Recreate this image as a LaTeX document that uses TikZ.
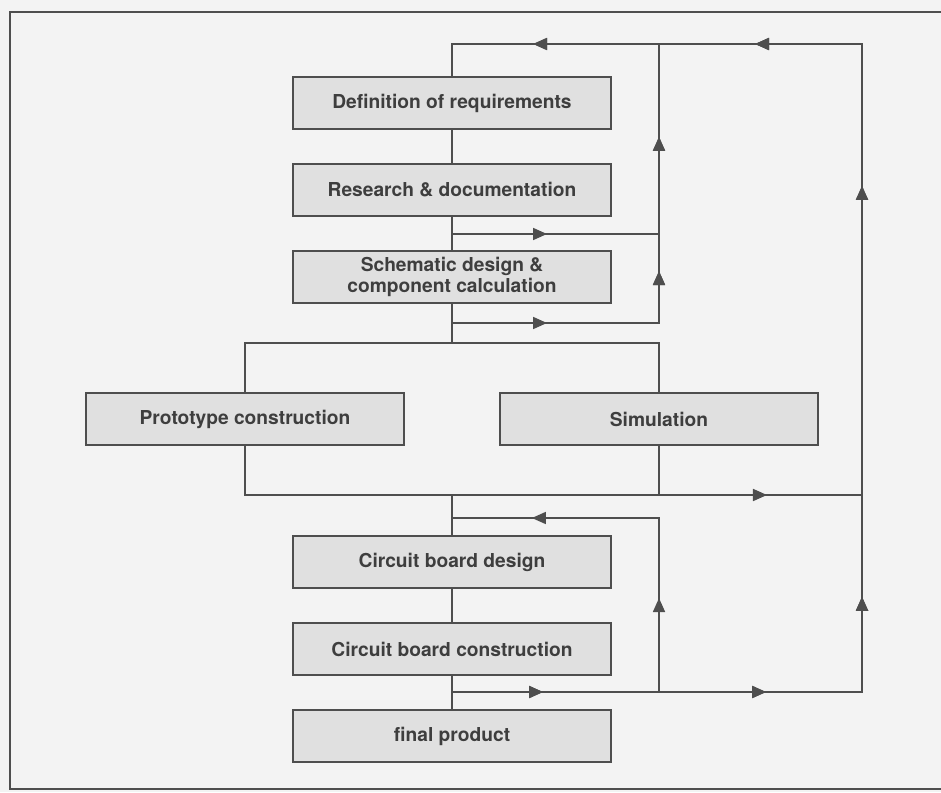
\documentclass[tikz,border=0pt]{standalone}
\usepackage{fontspec}
\setmainfont{TeX Gyre Heros}
\usetikzlibrary{arrows.meta, positioning, decorations.markings}

\definecolor{bg}{RGB}{243,243,243}
\definecolor{boxfill}{RGB}{224,224,224}
\definecolor{ink}{RGB}{78,78,78}
\definecolor{txt}{RGB}{62,62,62}

\begin{document}
\begin{tikzpicture}[
  x=0.5pt, y=-0.5pt,
  >={Triangle[length=7pt,width=6pt]},
  stage/.style={
    draw=ink,
    fill=boxfill,
    line width=1.15pt,
    align=center,
    text=txt,
    font=\bfseries\fontsize{9.6}{10.5}\selectfont,
    minimum width=159pt,
    minimum height=26pt,
    inner sep=2pt,
    outer sep=0pt
  },
  flow/.style={draw=ink, line width=0.85pt, line cap=rect},
  arrowat/.style={postaction={decorate},
    decoration={markings, mark=at position #1 with {\arrow[ink]{>}}}},
  node distance=17.5pt
]

% page
\useasboundingbox[fill=bg] (0,0) rectangle (941,792);
\draw[ink, line width=1pt] (941,12) -- (10,12) -- (10,789) -- (941,789);

% Main column
\node[stage] (def) at (452,103) {Definition of requirements};
\node[stage, below=of def] (res) {Research \& documentation};
\node[stage, below=of res] (sch) {Schematic design \&\\component calculation};

% Two parallel steps
\node[stage, below=45pt of sch, xshift=-103.5pt] (proto) {Prototype construction};
\node[stage, below=45pt of sch, xshift=103.5pt] (sim) {Simulation};

% Board and product
\node[stage, below=116.5pt of sch] (cbd) {Circuit board design};
\node[stage, below=of cbd] (cbc) {Circuit board construction};
\node[stage, below=of cbc] (fin) {final product};

% Junctions
\coordinate (top) at (def.north |- 0,44);
\coordinate (topin) at (sim.north |- 0,44);
\coordinate (topout) at (862,44);
\coordinate (r1) at (res.south |- 0,234);
\coordinate (r1in) at (sim.north |- 0,234);
\coordinate (s1) at (sch.south |- 0,323);
\coordinate (s1in) at (sim.north |- 0,323);
\coordinate (fork) at (sch.south |- 0,343);
\coordinate (forkl) at (proto.north |- 0,343);
\coordinate (forkr) at (sim.north |- 0,343);
\coordinate (join) at (cbd.north |- 0,495);
\coordinate (joinl) at (proto.south |- 0,495);
\coordinate (joinr) at (sim.south |- 0,495);
\coordinate (joinout) at (862,495);
\coordinate (c1) at (cbd.north |- 0,518);
\coordinate (c1in) at (sim.south |- 0,518);
\coordinate (bot) at (fin.north |- 0,692);
\coordinate (botin) at (sim.south |- 0,692);
\coordinate (botout) at (862,692);

% Main line
\draw[flow] (top) -- (def);
\draw[flow] (def) -- (res);
\draw[flow] (res) -- (sch);
\draw[flow] (sch) -- (fork);
\draw[flow] (forkl) -- (forkr);
\draw[flow] (forkl) -- (proto);
\draw[flow] (forkr) -- (sim);
\draw[flow] (proto) -- (joinl);
\draw[flow] (sim) -- (joinr);
\draw[flow, arrowat=0.846] (joinl) -- (joinout);
\draw[flow] (join) -- (cbd);
\draw[flow] (cbd) -- (cbc);
\draw[flow] (cbc) -- (fin);

% Inner loop: research / schematic
\draw[flow, arrowat=0.459] (r1) -- (r1in);
\draw[flow, arrowat=0.459] (s1) -- (s1in);
\draw[flow, arrowat=0.186, arrowat=0.667] (s1in) -- (topin);

% Inner loop: circuit board
\draw[flow, arrowat=0.54] (botin) -- (c1in);
\draw[flow, arrowat=0.614] (c1in) -- (c1);

% Outer loop
\draw[flow, arrowat=0.222, arrowat=0.766] (bot) -- (botout);
\draw[flow, arrowat=0.147, arrowat=0.781] (botout) -- (topout);
\draw[flow, arrowat=0.261, arrowat=0.802] (topout) -- (top);

\end{tikzpicture}
\end{document}
